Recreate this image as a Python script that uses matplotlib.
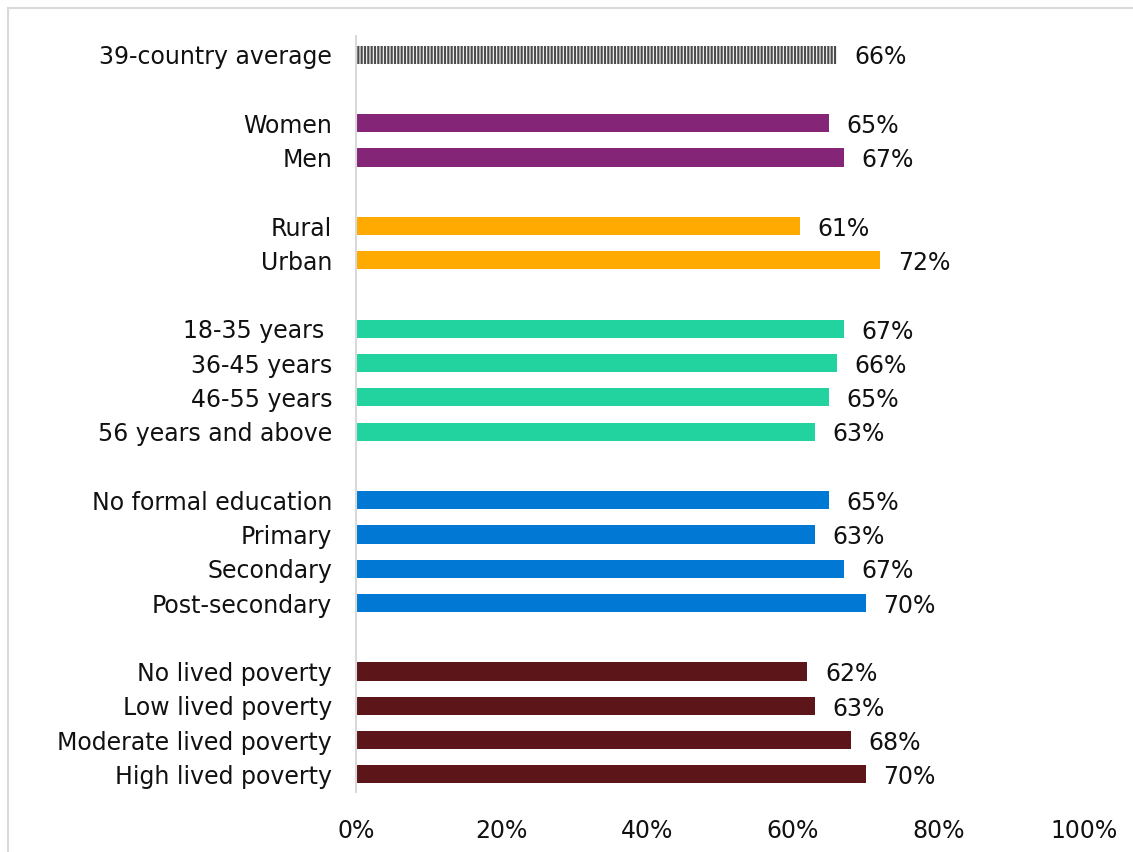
import numpy as np
import matplotlib.pyplot as plt
from matplotlib.patches import Rectangle

plt.rcParams['font.family'] = ['DejaVu Sans']
plt.rcParams['hatch.linewidth'] = 1.6

# groups of rows, blank rows between groups
groups = [
    ["39-country average"],
    ["Women", "Men"],
    ["Rural", "Urban"],
    ["18-35 years ", "36-45 years", "46-55 years", "56 years and above"],
    ["No formal education", "Primary", "Secondary", "Post-secondary"],
    ["No lived poverty", "Low lived poverty", "Moderate lived poverty", "High lived poverty"],
]
group_values = [
    [66],
    [65, 67],
    [61, 72],
    [67, 66, 65, 63],
    [65, 63, 67, 70],
    [62, 63, 68, 70],
]
group_colors = ["white", "#842577", "#FFAA00", "#22D3A0", "#0078D4", "#5C1518"]

FS = 17

fig = plt.figure(figsize=(11.33, 8.52), dpi=100)
ax = fig.add_axes([0.314, 0.071, 0.643, 0.887])

row = 0
ypos, labels = [], []
for gi, (names, vals) in enumerate(zip(groups, group_values)):
    for name, v in zip(names, vals):
        if gi == 0:
            ax.barh(row, v, height=0.53, color="white", edgecolor="#4d4d4d",
                    hatch="|||||", linewidth=0)
        else:
            ax.barh(row, v, height=0.53, color=group_colors[gi], linewidth=0)
        ax.text(v + 2.4, row + 0.08, f"{v}%", va="center", ha="left",
                fontsize=FS, color="#111111")
        ypos.append(row)
        labels.append(name)
        row += 1
    row += 1

ax.set_ylim(row - 1.5, -0.55)
ax.set_xlim(0, 100)
ax.set_yticks(ypos)
ax.set_yticklabels(labels, fontsize=FS, color="#111111")
ax.set_xticks(np.arange(0, 101, 20))
ax.set_xticklabels([f"{t}%" for t in range(0, 101, 20)], fontsize=FS, color="#111111")
ax.tick_params(length=0, axis="y", pad=17)
ax.tick_params(length=0, axis="x", pad=20)

for s in ["top", "right", "bottom"]:
    ax.spines[s].set_visible(False)
ax.spines["left"].set_color("#d9d9d9")
ax.spines["left"].set_linewidth(1.5)

# light frame around the chart area
fig.patches.append(Rectangle((8 / 1133, -0.1), 1.2, 1.1 - 8 / 852,
                             transform=fig.transFigure, fill=False,
                             edgecolor="#d9d9d9", linewidth=1.5))

fig.savefig("out.png", dpi=100)
